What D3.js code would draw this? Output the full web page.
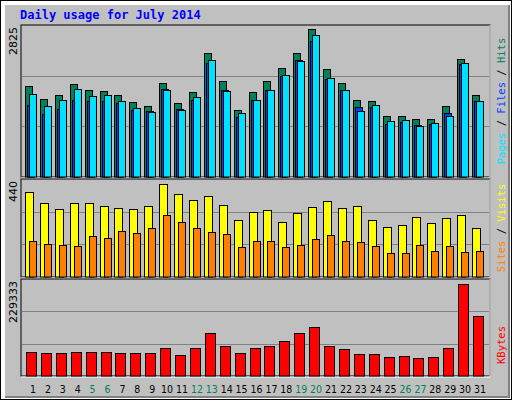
<!DOCTYPE html><html><head><meta charset="utf-8">
<script src="https://cdn.jsdelivr.net/npm/d3@7"></script>
<style>body{margin:0;background:#fff}</style></head><body>
<script>
const days = d3.range(1,32);
const weekend = [5,6,12,13,19,20,26,27];
const hits  = [1729,1480,1557,1767,1653,1633,1557,1423,1347,1787,1404,1615,2361,1825,1270,1615,1825,2074,2361,2825,2055,1787,1462,1443,1155,1155,1098,1098,1347,2246,1557];
const files = [1366,1194,1295,1462,1443,1443,1404,1270,1251,1672,1290,1462,2169,1653,1136,1462,1653,1921,2227,2590,1863,1653,1328,1328,1002,1041,983,1002,1213,2150,1443];
const pages = [1576,1347,1462,1672,1538,1557,1443,1308,1232,1653,1270,1519,2227,1633,1213,1462,1653,1940,2208,2705,1882,1653,1251,1366,1060,1079,964,1021,1155,2169,1443];
const visits= [402,349,321,349,349,335,326,321,335,440,392,364,383,340,268,307,316,259,302,330,359,326,335,268,235,245,283,254,278,292,230];
const sites = [168,154,149,145,192,183,216,207,230,292,259,230,211,202,140,168,168,140,149,178,197,168,164,145,111,111,149,121,145,116,121];
const kbytes= [58.7,56.2,56.2,58.7,58.7,58.7,56.2,56.2,56.2,68.7,51.2,68.7,106.4,73.8,56.2,68.7,73.8,86.3,106.4,121.4,73.8,66.2,53.7,53.7,46.2,48.7,43.7,46.2,68.7,229.333,149].map(v=>v*1000);
const maxLabels = ["2825","440","229333"];

const svg = d3.select("body").append("svg").attr("width",512).attr("height",400);
svg.append("rect").attr("x",0).attr("y",0).attr("width",512).attr("height",400).attr("fill","#000");
svg.append("rect").attr("x",1).attr("y",1).attr("width",510).attr("height",398).attr("fill","#fff");
svg.append("rect").attr("x",5).attr("y",5).attr("width",505).attr("height",393).attr("fill","#808080");
svg.append("rect").attr("x",5).attr("y",5).attr("width",503).attr("height",391).attr("fill","#c0c0c0");
svg.append("text").attr("x",20).attr("y",19).attr("fill","#0000ff").attr("font-family","DejaVu Sans Mono").attr("font-weight","bold").attr("font-size",12).text("Daily usage for July 2014");

const x = d3.scaleLinear().domain([1,31]).range([25,472]);
const panels = [
 {top:25,bot:177,maxY:29,max:2825},
 {top:179,bot:277,maxY:184.3,max:440},
 {top:279,bot:376,maxY:284.3,max:229333}
];
panels.forEach((p,i)=>{
  svg.append("rect").attr("x",21).attr("y",p.top).attr("width",469).attr("height",p.bot-p.top).attr("fill","#c0c0c0").attr("stroke","#000");
  svg.append("line").attr("x1",21).attr("x2",490).attr("y1",p.bot+1).attr("y2",p.bot+1).attr("stroke","#fff");
  svg.append("line").attr("x1",490).attr("x2",490).attr("y1",p.top).attr("y2",p.bot+1).attr("stroke","#fff").attr("stroke-width",1);
  const h=p.bot-p.top;
  [1/3,2/3].forEach(f=>svg.append("line").attr("x1",22).attr("x2",489).attr("y1",Math.round(p.top+h*f)+0.5).attr("y2",Math.round(p.top+h*f)+0.5).attr("stroke","#808080"));
  p.y=d3.scaleLinear().domain([0,p.max]).range([p.bot-0.3,p.maxY]);
  svg.append("text").attr("transform",`translate(17,${p.top+2}) rotate(-90)`).attr("text-anchor","end").attr("font-family","DejaVu Sans").attr("font-size",11).attr("fill","#000").text(maxLabels[i]);
});

function bars(data,p,off,w,color){
  svg.append("g").selectAll("rect").data(data).join("rect")
   .attr("x",(d,i)=>Math.round(x(i+1))+off+0.5).attr("width",w)
   .attr("y",d=>Math.round(p.y(d))+0.5).attr("height",d=>p.bot-0.5-Math.round(p.y(d)))
   .attr("fill",color).attr("stroke","#000");
}
bars(hits,panels[0],0,7,"#00805c");
bars(files,panels[0],2,7,"#0040ff");
bars(pages,panels[0],4,7,"#00e0ff");
bars(visits,panels[1],0,8,"#ffff00");
bars(sites,panels[1],4,7,"#ff8000");
bars(kbytes,panels[2],1,10,"#ff0000");

svg.append("g").selectAll("text").data(days).join("text")
 .attr("x",d=>x(d)+8).attr("y",393).attr("text-anchor","middle")
 .attr("font-family","DejaVu Sans Condensed, DejaVu Sans").attr("font-stretch","condensed").attr("font-size",10.5)
 .attr("fill",d=>weekend.includes(d)?"#00805c":"#000").text(d=>d);

function vlabel(yc,parts){
  const t=svg.append("text").attr("transform",`translate(505,${yc}) rotate(-90)`).attr("text-anchor","middle")
   .attr("font-family","DejaVu Sans Mono").attr("font-size",10.5);
  parts.forEach(([s,c])=>t.append("tspan").attr("fill",c).text(s));
}
vlabel(101,[["Pages","#00e0ff"],[" / ","#000"],["Files","#0040ff"],[" / ","#000"],["Hits","#00805c"]]);
vlabel(228,[["Sites","#ff8000"],[" / ","#000"],["Visits","#ffff00"]]);
vlabel(345,[["KBytes","#ff0000"]]);
</script></body></html>
